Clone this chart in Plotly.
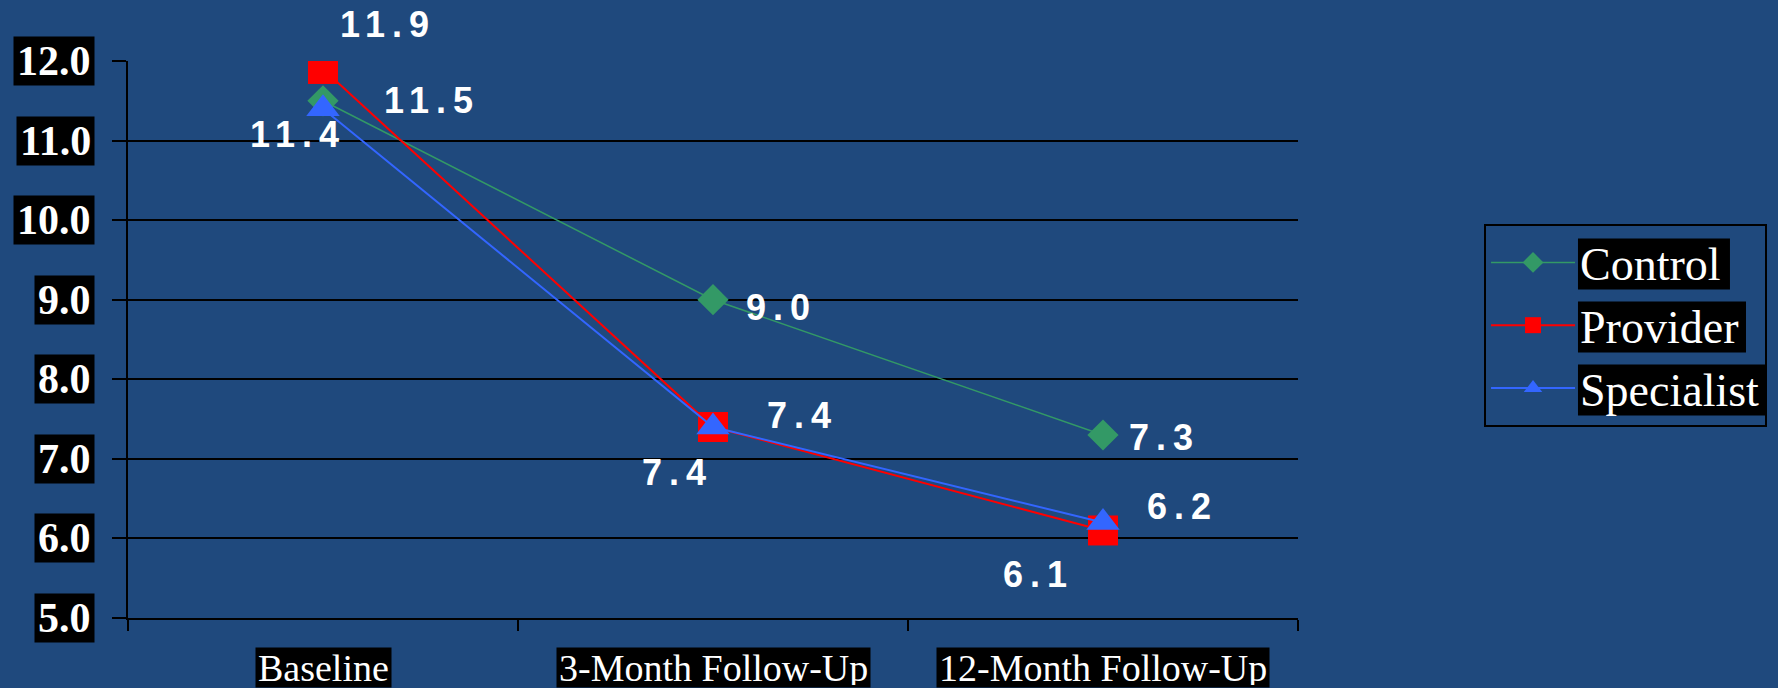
import plotly.graph_objects as go

# ---- data ----
categories = ["Baseline", "3-Month Follow-Up", "12-Month Follow-Up"]
control = [11.5, 9.0, 7.3]
provider = [11.9, 7.4, 6.1]
specialist = [11.4, 7.4, 6.2]
y_ticks = [5.0, 6.0, 7.0, 8.0, 9.0, 10.0, 11.0, 12.0]
y_tick_labels = ["5.0", "6.0", "7.0", "8.0", "9.0", "10.0", "11.0", "12.0"]

# ---- style ----
BG = "#1F497D"
GREEN = "#339966"
RED = "#FF0000"
BLUE = "#3366FF"
SERIF = "Liberation Serif, Times New Roman, serif"
SANS = "Liberation Sans, Arial, sans-serif"

# label offsets (px) per series / point
ctrl_off = [(106, 0), (65, -8), (58, -3)]
prov_off = [(62, 44), (-39, -45), (-68, -44)]
spec_off = [(-28, -26), (86, 12), (76, 16)]

fig = go.Figure()
fig.add_trace(go.Scatter(x=categories, y=control, name="Control", mode="lines+markers",
                         line=dict(color=GREEN, width=1.5),
                         marker=dict(symbol="diamond", size=24, color=GREEN)))
fig.add_trace(go.Scatter(x=categories, y=provider, name="Provider", mode="lines+markers",
                         line=dict(color=RED, width=2),
                         marker=dict(symbol="square", size=30, color=RED)))
fig.add_trace(go.Scatter(x=categories, y=specialist, name="Specialist", mode="lines+markers",
                         line=dict(color=BLUE, width=2),
                         marker=dict(symbol="triangle-up", size=29, color=BLUE)))

annotations = []
for vals, offs in ((control, ctrl_off), (provider, prov_off), (specialist, spec_off)):
    for c, v, (dx, dy) in zip(categories, vals, offs):
        annotations.append(dict(
            x=c, y=v, xref="x", yref="y", showarrow=False,
            text='<span style="letter-spacing:7px">%.1f</span>' % v,
            xshift=dx + 3, yshift=dy,
            font=dict(family=SANS, size=36, color="white", weight="bold")))

# y tick labels (black boxes)
for t, lab in zip(y_ticks, y_tick_labels):
    annotations.append(dict(
        x=-0.0282, xref="paper", y=t, yref="y", xanchor="right", yanchor="middle",
        showarrow=False, text=lab, bgcolor="black", borderpad=3, height=42,
        font=dict(family=SERIF, size=42, color="white", weight="bold")))

# x category labels (black boxes)
for c in categories:
    annotations.append(dict(
        x=c, xref="x", y=-0.0889, yref="paper", xanchor="center", yanchor="middle",
        showarrow=False, text=c, bgcolor="black", borderpad=2, height=35,
        font=dict(family=SERIF, size=38, color="white")))

# black boxes behind legend texts
legend_boxes = [(1.2393, 1.3692, 0.5898, 0.6813),
                (1.2393, 1.3829, 0.4767, 0.5682),
                (1.2393, 1.4000, 0.3636, 0.4551)]
shapes = [dict(type="rect", xref="paper", yref="paper", x0=a, x1=b, y0=c, y1=d,
               fillcolor="black", line=dict(width=0), layer="below")
          for a, b, c, d in legend_boxes]

fig.update_layout(
    width=1778, height=688,
    paper_bgcolor=BG, plot_bgcolor=BG,
    margin=dict(l=128, r=480, t=61, b=70, autoexpand=False),
    showlegend=True,
    legend=dict(x=1.1590, y=0.7074, xanchor="left", yanchor="top",
                bgcolor="rgba(0,0,0,0)", bordercolor="black", borderwidth=2,
                font=dict(family=SERIF, size=46, color="white"),
                itemwidth=84, tracegroupgap=0),
    annotations=annotations,
    shapes=shapes,
    xaxis=dict(type="category", range=[-0.5, 2.5], showgrid=False, zeroline=False,
               showline=True, linecolor="black", linewidth=2, mirror=False,
               ticks="outside", tickson="boundaries", ticklen=11, tickwidth=2,
               tickcolor="black", showticklabels=False),
    yaxis=dict(range=[5, 12], tickvals=y_ticks, showgrid=True, gridcolor="black",
               gridwidth=2, zeroline=False, showline=True, linecolor="black",
               linewidth=2, ticks="outside", ticklen=14, tickwidth=2,
               tickcolor="black", showticklabels=False),
)

fig.write_html("out.html")
